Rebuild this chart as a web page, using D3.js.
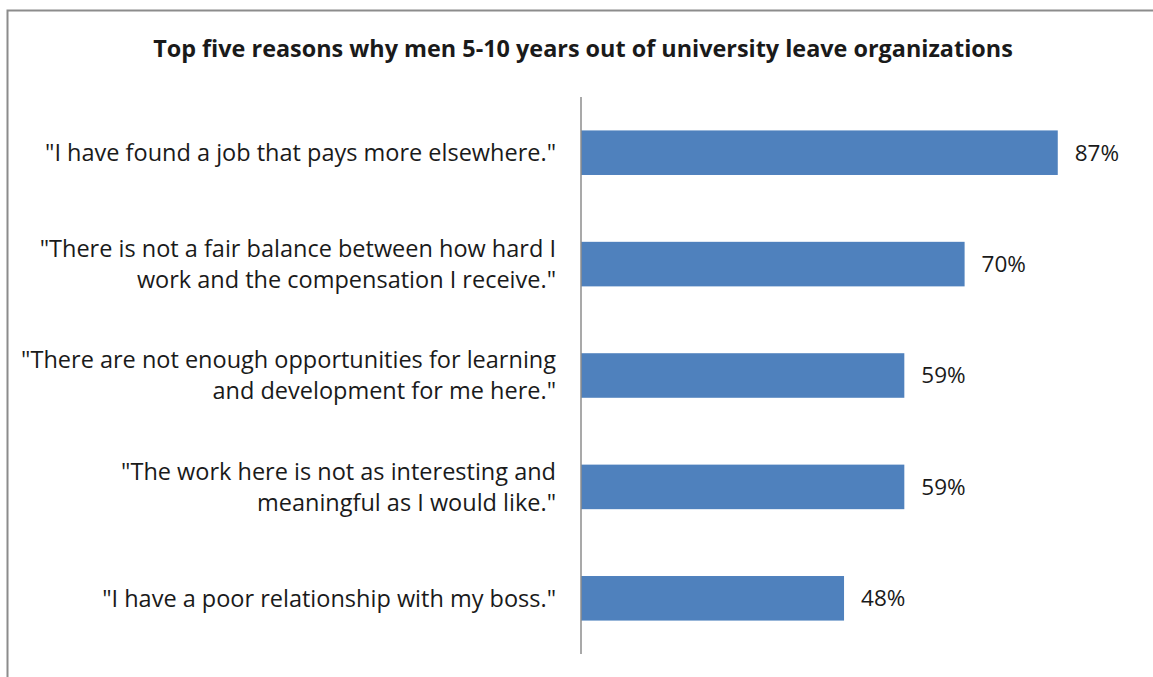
<!DOCTYPE html>
<html>
<head>
<meta charset="utf-8">
<script src="https://cdn.jsdelivr.net/npm/d3@7"></script>
<style>
  body { margin: 0; background: #fff; }
  svg { display: block; }
  text { font-family: "Open Sans", sans-serif; fill: #1a1a1a; }
</style>
</head>
<body>
<svg id="chart" width="1153" height="677"></svg>
<script>
// chart data
var title = "Top five reasons why men 5-10 years out of university leave organizations";
var reasons = [
  ["\"I have found a job that pays more elsewhere.\""],
  ["\"There is not a fair balance between how hard I", "work and the compensation I receive.\""],
  ["\"There are not enough opportunities for learning", "and development for me here.\""],
  ["\"The work here is not as interesting and", "meaningful as I would like.\""],
  ["\"I have a poor relationship with my boss.\""]
];
var shares = [0.87, 0.70, 0.59, 0.59, 0.48];

var svg = d3.select("#chart");

// outer frame (right and bottom edges run off the picture)
svg.append("rect")
  .attr("x", 7.5).attr("y", 10.5)
  .attr("width", 1200).attr("height", 700)
  .attr("fill", "none")
  .attr("stroke", "#8c8c8c")
  .attr("stroke-width", 2);

svg.append("text")
  .attr("x", 583).attr("y", 57)
  .attr("text-anchor", "middle")
  .style("font-weight", "bold")
  .style("font-size", "23.4px")
  .text(title);

var x = d3.scaleLinear().domain([0, 1]).range([581, 1129]);
var y = d3.scaleBand()
  .domain(d3.range(reasons.length))
  .range([97, 654])
  .paddingInner(0.6)
  .paddingOuter(0.3);

svg.selectAll("rect.bar")
  .data(shares)
  .enter().append("rect")
  .attr("class", "bar")
  .attr("x", x(0))
  .attr("y", function(d, i) { return y(i); })
  .attr("width", function(d) { return x(d) - x(0); })
  .attr("height", y.bandwidth())
  .attr("fill", "#4f81bd");

svg.selectAll("text.val")
  .data(shares)
  .enter().append("text")
  .attr("class", "val")
  .attr("x", function(d) { return x(d) + 17; })
  .attr("y", function(d, i) { return y(i) + y.bandwidth() / 2; })
  .attr("dy", "0.35em")
  .style("font-size", "22.5px")
  .text(function(d) { return Math.round(d * 100) + "%"; });

// category labels, one or two lines each
var labels = svg.selectAll("text.cat")
  .data(reasons)
  .enter().append("text")
  .attr("class", "cat")
  .attr("text-anchor", "end")
  .style("font-size", "23.5px")
  .attr("y", function(d, i) { return y(i) + y.bandwidth() / 2; });

labels.selectAll("tspan")
  .data(function(d) { return d; })
  .enter().append("tspan")
  .attr("x", 556)
  .attr("dy", function(d, j, n) {
    var off = j === 0 ? (0.35 - (n.length - 1) * 0.66) : 1.32;
    return off + "em";
  })
  .text(function(d) { return d; });

// vertical axis line
svg.append("line")
  .attr("x1", x(0)).attr("x2", x(0))
  .attr("y1", 97).attr("y2", 654)
  .attr("stroke", "#8c8c8c")
  .attr("stroke-width", 1.5);
</script>
</body>
</html>
